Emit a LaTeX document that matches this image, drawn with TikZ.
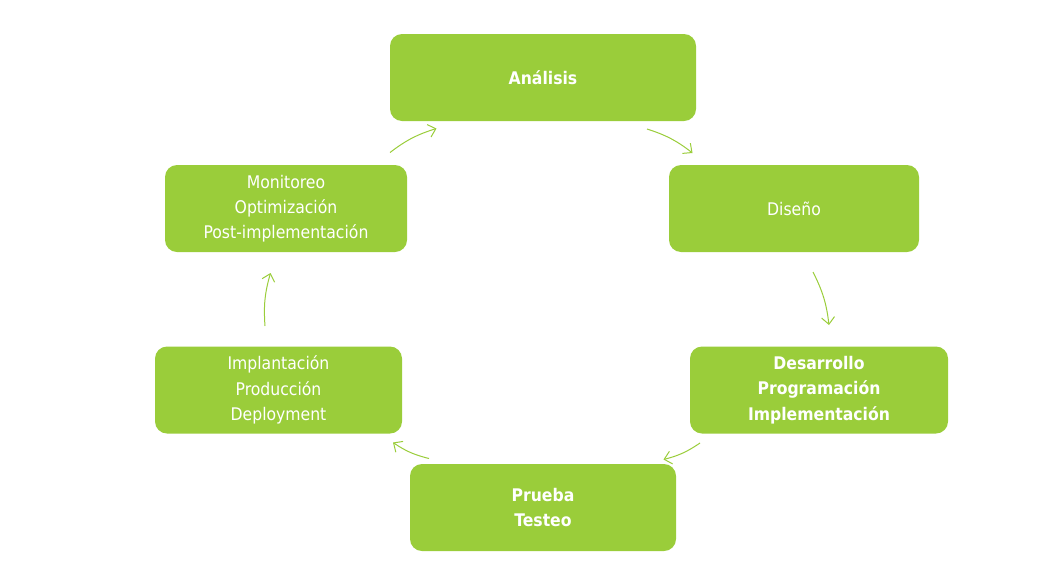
\documentclass[tikz,border=0pt]{standalone}
\usepackage{fontspec}
\setmainfont{DejaVu Sans Condensed}
\usetikzlibrary{arrows.meta}
\definecolor{boxgreen}{HTML}{9ACD3A}
\definecolor{arrgreen}{HTML}{9ACD3A}
\begin{document}
\begin{tikzpicture}[x=1pt,y=-1pt,
  stage/.style={fill=boxgreen, rounded corners=12pt, text=white, align=center,
    minimum height=87pt, inner sep=0pt,
    font=\fontsize{17.4}{25.3}\selectfont},
  flow/.style={draw=arrgreen, line width=1pt,
    -{Straight Barb[length=7pt,width=13pt,line width=1pt]}, bend left=10}]
\useasboundingbox (0,0) rectangle (1054,560);
\node[stage, minimum width=306pt] (ana) at (543,77.5) {\textbf{Análisis}};
\node[stage, minimum width=250pt] (dis) at (794,208.5) {Diseño};
\node[stage, minimum width=258pt] (des) at (819,390) {\textbf{Desarrollo}\\\textbf{Programación}\\\textbf{Implementación}};
\node[stage, minimum width=266pt] (pru) at (543,507.5) {\textbf{Prueba}\\\textbf{Testeo}};
\node[stage, minimum width=247pt] (imp) at (278.5,390) {Implantación\\Producción\\Deployment};
\node[stage, minimum width=242pt] (mon) at (286,208.5) {Monitoreo\\Optimización\\Post-implementación};
\coordinate (a1s) at (390,152.5); \coordinate (a1e) at (436.5,128.5);
\coordinate (a2s) at (647,129); \coordinate (a2e) at (692.5,153);
\coordinate (a3s) at (813,272); \coordinate (a3e) at (829,325);
\coordinate (a4s) at (700,443); \coordinate (a4e) at (663.5,459.5);
\coordinate (a5s) at (429,458.5); \coordinate (a5e) at (393,442.5);
\coordinate (a6s) at (265,326); \coordinate (a6e) at (270.5,273);
\draw[flow] (a1s) to (a1e);
\draw[flow] (a2s) to (a2e);
\draw[flow] (a3s) to (a3e);
\draw[flow] (a4s) to (a4e);
\draw[flow] (a5s) to (a5e);
\draw[flow] (a6s) to (a6e);
\end{tikzpicture}
\end{document}
